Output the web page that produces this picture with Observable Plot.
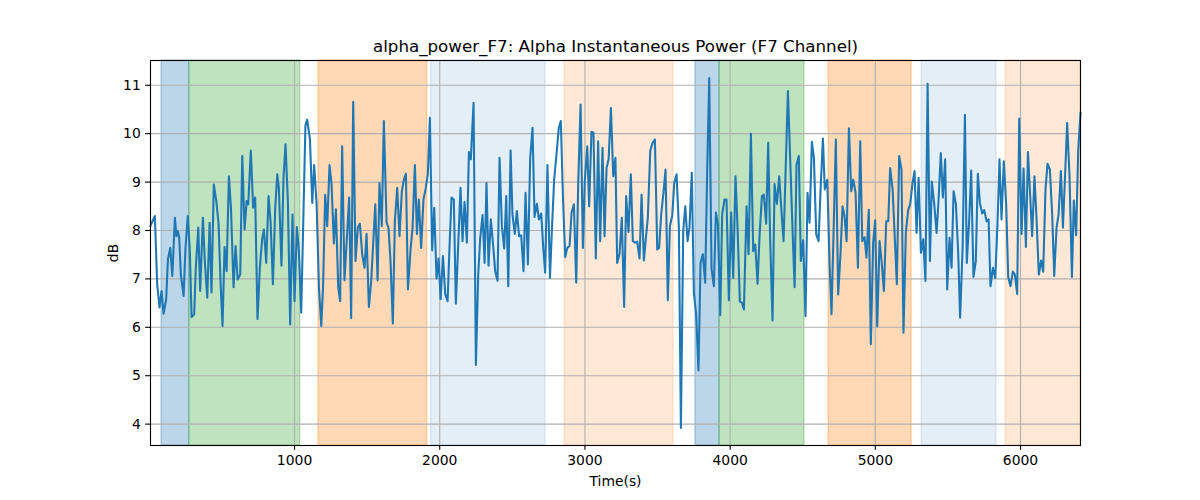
<!DOCTYPE html>
<html><head><meta charset="utf-8">
<script src="https://cdn.jsdelivr.net/npm/d3@7"></script>
<script src="https://cdn.jsdelivr.net/npm/@observablehq/plot@0.6"></script>
<style>
body{margin:0;background:#fff;}
#chart svg{font-family:"DejaVu Sans",sans-serif;}
</style>
</head><body><div id="chart"></div>
<script>
const titleText = "alpha_power_F7: Alpha Instantaneous Power (F7 Channel)";
const xLabel = "Time(s)";
const yLabel = "dB";
const xTicks = [1000, 2000, 3000, 4000, 5000, 6000];
const yTicks = [4, 5, 6, 7, 8, 9, 10, 11];

const times = [8,38,54,70,84,98,116,128,144,158,176,187,196,206,217,236,249,265,279,291,309,320,337,350,369,382,399,415,428,444,461,477,490,504,518,532,548,562,580,594,608,626,640,656,670,681,699,715,729,745,761,777,789,805,821,835,851,867,881,892,910,924,938,954,970,986,1000,1016,1030,1046,1075,1087,1106,1122,1135,1152,1168,1184,1197,1211,1225,1241,1255,1271,1285,1301,1314,1328,1344,1363,1376,1390,1404,1420,1436,1450,1466,1482,1496,1512,1528,1542,1556,1572,1585,1601,1615,1634,1647,1661,1677,1691,1707,1723,1739,1753,1767,1781,1799,1813,1829,1843,1856,1872,1888,1904,1918,1932,1948,1962,1978,1992,2006,2022,2038,2054,2067,2081,2097,2111,2143,2157,2171,2187,2201,2214,2233,2249,2265,2279,2295,2309,2322,2336,2352,2368,2382,2398,2412,2428,2444,2458,2472,2488,2501,2517,2531,2547,2561,2577,2591,2607,2623,2639,2653,2669,2683,2699,2713,2726,2742,2759,2775,2788,2804,2820,2834,2848,2864,2878,2894,2908,2924,2940,2954,2970,2986,2999,3016,3029,3045,3059,3075,3091,3105,3121,3135,3149,3163,3179,3195,3210,3222,3238,3254,3270,3284,3300,3316,3330,3346,3360,3376,3390,3406,3420,3433,3450,3466,3482,3498,3511,3525,3541,3555,3571,3585,3601,3615,3631,3647,3661,3677,3691,3707,3720,3736,3750,3766,3782,3796,3812,3828,3842,3856,3872,3888,3902,3916,3932,3945,3961,3975,3991,4007,4021,4037,4051,4067,4081,4095,4113,4127,4143,4159,4173,4189,4203,4219,4232,4248,4262,4276,4292,4306,4322,4338,4352,4368,4382,4398,4414,4427,4444,4457,4473,4487,4503,4519,4533,4547,4563,4577,4593,4609,4623,4639,4652,4669,4685,4698,4712,4728,4744,4760,4774,4788,4802,4818,4834,4848,4864,4880,4896,4910,4926,4939,4955,4969,4985,4999,5013,5029,5043,5059,5075,5089,5102,5119,5135,5148,5164,5180,5194,5210,5226,5240,5256,5270,5284,5298,5314,5330,5345,5360,5376,5389,5405,5422,5435,5451,5465,5481,5495,5511,5525,5539,5555,5571,5584,5601,5617,5630,5646,5660,5676,5692,5706,5720,5736,5750,5766,5780,5793,5810,5826,5842,5855,5869,5885,5901,5915,5931,5947,5961,5977,5991,6007,6021,6037,6051,6067,6080,6096,6110,6126,6142,6156,6172,6186,6202,6218,6232,6248,6262,6278,6292,6308,6321,6337,6354,6367,6383,6397,6413];

const values = [8.10,8.30,6.89,6.41,6.75,6.28,6.58,7.40,7.64,7.06,8.26,7.88,7.99,7.85,7.09,6.65,7.64,8.30,7.57,6.21,6.27,7.23,8.06,6.75,8.26,7.37,6.61,8.16,6.72,8.95,8.61,8.13,6.96,6.03,7.66,7.16,9.12,8.47,6.83,7.68,6.99,7.09,9.54,8.02,8.61,8.54,9.65,8.47,8.68,6.17,7.23,7.82,8.02,7.33,8.71,8.19,6.89,8.47,9.16,8.88,7.27,9.09,9.78,8.61,6.06,8.33,6.54,8.07,7.57,6.30,10.17,10.29,9.88,8.57,9.35,8.54,6.82,6.03,6.89,8.74,8.09,9.35,8.95,7.73,8.44,6.82,6.54,9.74,6.97,7.99,8.68,6.19,10.66,7.37,8.06,8.14,7.51,7.23,7.93,6.42,6.96,7.75,8.54,6.97,8.98,8.09,10.26,8.16,8.06,7.37,6.08,8.19,8.88,7.88,8.81,9.05,9.17,6.78,7.61,8.06,9.35,7.93,8.64,7.64,8.64,8.88,9.16,10.33,7.59,8.47,7.01,7.42,6.58,7.47,6.68,6.54,7.64,8.68,8.64,6.49,8.88,7.78,8.59,7.75,9.62,9.47,10.64,5.22,7.09,7.85,8.32,7.33,8.98,7.27,8.23,7.68,7.16,6.96,9.50,8.09,7.63,8.71,6.85,9.65,8.33,7.93,8.40,7.88,7.90,7.16,8.78,7.30,9.50,10.12,8.28,8.55,8.23,8.35,7.64,7.13,9.35,7.02,8.19,9.05,9.57,10.12,10.26,8.74,7.45,7.64,7.68,8.37,8.54,6.92,9.02,10.60,7.64,9.02,9.74,8.50,10.04,10.02,7.42,9.84,7.78,9.71,7.88,9.29,9.47,10.53,9.12,9.50,7.33,7.51,8.26,6.42,8.71,7.97,9.16,7.78,7.75,7.77,7.42,8.74,7.38,7.85,8.26,9.65,9.81,9.88,7.61,7.64,8.33,8.78,9.26,6.56,8.09,8.30,8.98,9.16,8.06,3.92,7.99,8.50,7.78,8.06,9.19,6.72,6.27,5.11,7.33,7.51,6.92,9.23,11.15,7.20,6.85,8.37,8.13,6.25,8.33,8.64,8.64,6.56,8.37,7.02,9.12,8.06,6.53,6.51,6.37,8.50,7.51,10.00,7.57,7.71,6.90,7.92,8.71,8.74,8.14,9.81,7.78,6.14,8.96,8.55,9.12,8.47,7.78,9.23,10.88,9.43,8.26,6.83,9.36,9.54,7.37,7.80,6.23,8.78,8.16,9.83,9.50,7.92,7.78,8.85,9.90,8.85,9.05,7.30,6.27,7.92,9.88,6.68,7.51,8.50,8.30,7.78,10.11,8.81,9.05,8.78,7.23,9.84,7.78,7.86,7.44,8.43,5.65,7.75,8.21,6.02,7.78,7.37,6.75,8.19,8.19,9.29,8.85,7.78,6.89,9.54,9.26,5.89,7.95,8.42,8.54,8.98,9.23,7.95,9.09,7.54,7.82,6.96,11.03,7.37,9.01,8.57,7.95,8.61,9.60,8.68,9.47,6.78,7.85,7.23,8.81,8.54,7.51,6.20,7.64,10.39,7.33,8.19,9.24,7.04,7.37,9.17,8.57,8.35,8.42,8.19,8.23,6.85,7.23,7.02,8.19,9.47,8.23,9.43,8.54,7.04,6.85,7.15,7.09,6.69,10.31,7.93,9.28,7.66,9.62,8.68,7.88,9.12,8.26,7.09,7.38,7.15,8.85,9.38,9.26,8.33,7.06,8.06,8.33,9.23,8.06,9.23,10.22,9.16,7.04,8.62,7.90,9.64,10.43];

const spanStart = [84, 275, 1165, 1941, 2859, 3761, 3927, 4678, 5318, 5897];
const spanEnd   = [275, 1039, 1914, 2729, 3610, 3927, 4512, 5250, 5835, 6413];
const spanKind  = ["blue", "green", "orange", "lightblue", "lightorange", "blue", "green", "orange", "lightblue", "lightorange"];

const kindStyle = {
  blue: {color: "#1f77b4", opacity: 0.3},
  green: {color: "#2ca02c", opacity: 0.3},
  orange: {color: "#ff7f0e", opacity: 0.3},
  lightblue: {color: "#1f77b4", opacity: 0.12},
  lightorange: {color: "#ff7f0e", opacity: 0.17}
};

const series = times.map((t, i) => ({t, v: values[i]}));
const spans = spanStart.map((s, i) => ({start: s, end: spanEnd[i], kind: spanKind[i]}));

const vmin = d3.min(values), vmax = d3.max(values);
const pad = (vmax - vmin) * 0.05;
const pt = 100 / 72;

const spanMarks = Object.keys(kindStyle).map(k => Plot.rect(spans.filter(d => d.kind === k), {
  x1: "start", x2: "end",
  fill: kindStyle[k].color, fillOpacity: kindStyle[k].opacity,
  stroke: kindStyle[k].color, strokeOpacity: kindStyle[k].opacity, strokeWidth: 1 * pt
}));

const chart = Plot.plot({
  width: 1200, height: 500,
  marginLeft: 150, marginRight: 120, marginTop: 60, marginBottom: 55,
  style: {fontFamily: "DejaVu Sans, sans-serif", fontSize: "13.9px", background: "white", color: "black", overflow: "visible"},
  x: {domain: [times[0], times[times.length - 1]]},
  y: {domain: [vmin - pad, vmax + pad]},
  marks: [
    ...spanMarks,
    Plot.gridX(xTicks, {stroke: "#b0b0b0", strokeOpacity: 1, strokeWidth: 0.8 * pt}),
    Plot.gridY(yTicks, {stroke: "#b0b0b0", strokeOpacity: 1, strokeWidth: 0.8 * pt}),
    Plot.line(series, {x: "t", y: "v", stroke: "#1f77b4", strokeWidth: 1.5 * pt, strokeLinejoin: "round", strokeLinecap: "square"}),
    Plot.frame({stroke: "black", strokeWidth: 0.8 * pt}),
    Plot.axisX(xTicks, {tickSize: 3.5 * pt, tickPadding: 3.5 * pt, strokeWidth: 0.8 * pt, tickFormat: d => String(d), label: xLabel, labelAnchor: "center", labelArrow: "none", labelOffset: 40}),
    Plot.axisY(yTicks, {tickSize: 3.5 * pt, tickPadding: 3.5 * pt, strokeWidth: 0.8 * pt, tickFormat: d => String(d), label: yLabel, labelAnchor: "center", labelArrow: "none", labelOffset: 42}),
    Plot.text([titleText], {text: d => d, frameAnchor: "top", lineAnchor: "middle", dy: -14, fontSize: 16.7})
  ]
});
document.getElementById("chart").appendChild(chart);
</script>
</body></html>
